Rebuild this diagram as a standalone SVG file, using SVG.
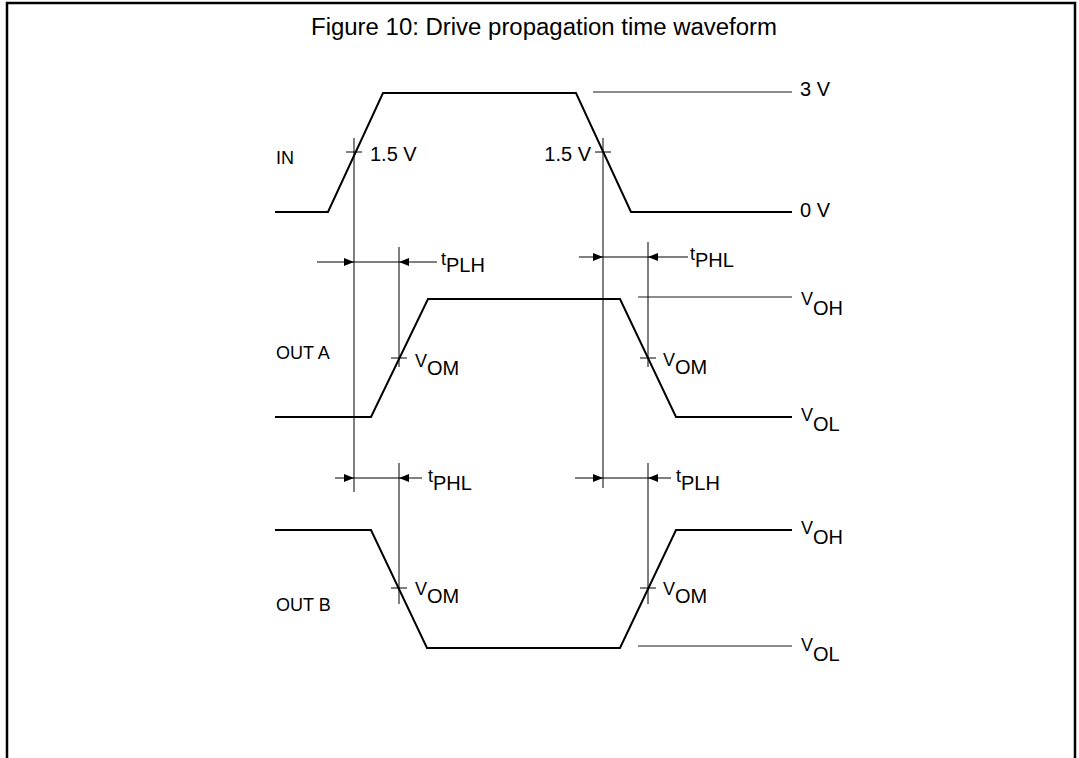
<svg xmlns="http://www.w3.org/2000/svg" width="1079" height="758" viewBox="0 0 1079 758">
<style>
text{font-family:"Liberation Sans",Arial,sans-serif;fill:#000}
.lbl{font-size:18px}
.big{font-size:20px}
.sub{font-size:20px}
.t{font-size:18px}
.wave{fill:none;stroke:#000;stroke-width:2;stroke-linejoin:miter}
.ref{fill:none;stroke:#666;stroke-width:1.4}
.vl{fill:none;stroke:#000;stroke-width:1}
.tick{fill:none;stroke:#000;stroke-width:1}
.arr{fill:none;stroke:#000;stroke-width:1;marker-end:url(#ah)}
.frame{fill:none;stroke:#000;stroke-width:2.5}
</style>
<defs>
<marker id="ah" viewBox="0 0 10 8" refX="10" refY="4" markerWidth="10" markerHeight="8" markerUnits="userSpaceOnUse" orient="auto">
<path d="M0,0 L10,4 L0,8 Z" fill="#000"/>
</marker>
</defs>
<g id="frame">
<path class="frame" d="M7,758 V3 H1075 V758"/>
</g>
<g id="title">
<text x="544" y="35" text-anchor="middle" style="font-size:23px" textLength="466" lengthAdjust="spacingAndGlyphs">Figure 10: Drive propagation time waveform</text>
</g>
<g id="labels">
<text class="lbl" x="276" y="164">IN</text>
<text class="lbl" x="276" y="359">OUT A</text>
<text class="lbl" x="276" y="611">OUT B</text>
</g>
<g id="wave-in">
<polyline class="wave" points="275,212 328,212 383,93 576,93 631,212 792,212"/>
<line class="ref" x1="593" y1="92" x2="792" y2="92"/>
<text class="big" x="800" y="96">3 V</text>
<text class="big" x="800" y="217">0 V</text>
<text class="big" x="370" y="161">1.5 V</text>
<text class="big" x="591" y="161" text-anchor="end">1.5 V</text>
</g>
<g id="wave-outa">
<polyline class="wave" points="275,417 371,417 428,299 620,299 676,417 792,417"/>
<line class="ref" x1="638" y1="297" x2="792" y2="297"/>
<text x="801" y="305"><tspan class="t">V</tspan><tspan class="sub" dy="10">OH</tspan></text>
<text x="801" y="421"><tspan class="t">V</tspan><tspan class="sub" dy="10">OL</tspan></text>
<text x="415" y="367"><tspan class="t">V</tspan><tspan class="sub" dy="8">OM</tspan></text>
<text x="663" y="366"><tspan class="t">V</tspan><tspan class="sub" dy="8">OM</tspan></text>
</g>
<g id="wave-outb">
<polyline class="wave" points="275,530 371,530 427,648 620,648 676,530 792,530"/>
<line class="ref" x1="638" y1="646" x2="792" y2="646"/>
<text x="801" y="534"><tspan class="t">V</tspan><tspan class="sub" dy="10">OH</tspan></text>
<text x="801" y="651"><tspan class="t">V</tspan><tspan class="sub" dy="10">OL</tspan></text>
<text x="415" y="595"><tspan class="t">V</tspan><tspan class="sub" dy="8">OM</tspan></text>
<text x="663" y="595"><tspan class="t">V</tspan><tspan class="sub" dy="8">OM</tspan></text>
</g>
<g id="connectors">
<line class="vl" x1="354" y1="138" x2="354" y2="492"/>
<line class="vl" x1="603" y1="138" x2="603" y2="488"/>
<line class="vl" x1="399" y1="247" x2="399" y2="367"/>
<line class="vl" x1="648" y1="242" x2="648" y2="367"/>
<line class="vl" x1="399" y1="463" x2="399" y2="604"/>
<line class="vl" x1="648" y1="463" x2="648" y2="604"/>
<line class="tick" x1="346" y1="152" x2="362" y2="152"/>
<line class="tick" x1="595" y1="152" x2="611" y2="152"/>
<line class="tick" x1="391" y1="358" x2="407" y2="358"/>
<line class="tick" x1="640" y1="358" x2="656" y2="358"/>
<line class="tick" x1="391" y1="588" x2="407" y2="588"/>
<line class="tick" x1="640" y1="588" x2="656" y2="588"/>
<line class="arr" x1="317" y1="262" x2="354" y2="262"/>
<line class="vl" x1="354" y1="262" x2="399" y2="262"/>
<line class="arr" x1="437" y1="262" x2="399" y2="262"/>
<line class="arr" x1="579" y1="257" x2="603" y2="257"/>
<line class="vl" x1="603" y1="257" x2="648" y2="257"/>
<line class="arr" x1="688" y1="257" x2="648" y2="257"/>
<line class="arr" x1="335" y1="478" x2="354" y2="478"/>
<line class="vl" x1="354" y1="478" x2="399" y2="478"/>
<line class="arr" x1="422" y1="478" x2="399" y2="478"/>
<line class="arr" x1="575" y1="478" x2="603" y2="478"/>
<line class="vl" x1="603" y1="478" x2="648" y2="478"/>
<line class="arr" x1="671" y1="478" x2="648" y2="478"/>
</g>
<g id="timing-labels">
<text x="441" y="265"><tspan class="t">t</tspan><tspan class="sub" dy="7">PLH</tspan></text>
<text x="690" y="260"><tspan class="t">t</tspan><tspan class="sub" dy="7">PHL</tspan></text>
<text x="428" y="482"><tspan class="t">t</tspan><tspan class="sub" dy="8">PHL</tspan></text>
<text x="676" y="482"><tspan class="t">t</tspan><tspan class="sub" dy="8">PLH</tspan></text>
</g>
</svg>
